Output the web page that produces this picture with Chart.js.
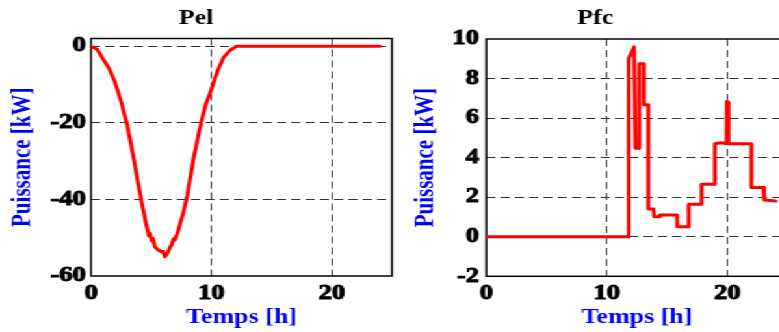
<!DOCTYPE html>
<html><head><meta charset="utf-8">
<script src="https://cdn.jsdelivr.net/npm/chart.js@4.4.1/dist/chart.umd.min.js"></script>
<style>
html,body{margin:0;padding:0;background:#fff;overflow:hidden;width:779px;height:332px}
#stage{position:absolute;left:0;top:0;width:600px;height:332px;transform:scaleX(1.3);transform-origin:0 0}
#c1{position:absolute;left:0;top:0}
#c2{position:absolute;left:310px;top:0}
</style></head><body>
<div id="stage"><canvas id="c1" width="310" height="332"></canvas><canvas id="c2" width="300" height="332"></canvas></div>
<script>
// ---- data ----
const xTickValues = [0, 10, 20];
const pelTickValues = [-60, -40, -20, 0];
const pfcTickValues = [-2, 0, 2, 4, 6, 8, 10];

const pelTime  = [0, 0.5, 1, 1.5, 2, 2.5, 3, 3.5, 4, 4.34, 4.62, 4.8, 4.9, 5.03, 5.15, 5.31, 5.6, 5.87, 6.0, 6.14, 6.3, 6.42, 6.55, 6.7, 6.85, 6.97, 7.1, 7.25, 7.66, 8, 8.5, 9, 9.5, 10, 10.5, 11, 11.5, 12.1, 24];
const pelPower = [0, -0.8, -3.4, -5.8, -9.5, -14.5, -20.5, -28.5, -37.3, -42.8, -47, -49.5, -48.8, -50.8, -50.2, -52.4, -53.2, -53.7, -53.6, -55.0, -54.2, -53.7, -52.5, -51.9, -50.3, -50.6, -49.5, -48, -43.6, -39, -29.6, -22, -15.5, -11.3, -6.5, -3, -1.2, 0, 0];

const pfcTime  = [0, 11.82, 11.82, 12.06, 12.26, 12.38, 12.7, 12.7, 13.08, 13.08, 13.45, 13.45, 13.88, 13.93, 14.35, 14.4, 15.84, 15.84, 16.8, 16.8, 17.87, 17.87, 18.97, 18.97, 19.5, 19.95, 19.97, 20.08, 20.1, 22.0, 22.0, 23.0, 23.06, 24.0];
const pfcPower = [0, 0, 9.04, 9.3, 9.6, 4.48, 4.48, 8.75, 8.75, 6.67, 6.67, 1.4, 1.4, 1.01, 1.01, 1.1, 1.1, 0.51, 0.51, 1.64, 1.64, 2.65, 2.65, 4.70, 4.75, 4.72, 6.84, 6.8, 4.7, 4.7, 2.49, 2.49, 1.86, 1.81];

const FONT = "'Liberation Serif','Times New Roman',serif";

const framePlugin = {
  id: 'frame',
  beforeDatasetsDraw(chart) {
    const {ctx, chartArea: a} = chart;
    ctx.save();
    ctx.setLineDash([]);
    ctx.strokeStyle = '#000';
    ctx.lineWidth = 1.5;
    ctx.strokeRect(a.left, a.top, a.right - a.left, a.bottom - a.top);
    ctx.restore();
  }
};

function makeChart(id, cfg) {
  const pts = cfg.time.map((t, i) => ({x: t, y: cfg.values[i]}));
  return new Chart(document.getElementById(id), {
    type: 'line',
    data: {datasets: [{data: pts, borderColor: '#ff0000', borderWidth: 3, pointRadius: 0, tension: 0, fill: false, borderJoinStyle: 'round', borderCapStyle: 'round'}]},
    plugins: [framePlugin],
    options: {
      responsive: false, animation: false, devicePixelRatio: 1,
      layout: {padding: {top: 0, left: 0, bottom: 0, right: cfg.padRight}},
      plugins: {
        legend: {display: false}, tooltip: {enabled: false},
        title: {display: true, text: cfg.title, color: '#000', font: {family: FONT, size: 20, weight: 'bold', lineHeight: 1.2}, padding: {top: 7, bottom: cfg.titleBottom}}
      },
      scales: {
        x: {
          type: 'linear', min: 0, max: 25,
          afterBuildTicks: s => { s.ticks = xTickValues.map(v => ({value: v})); },
          afterFit: s => { s.height = cfg.xHeight; },
          ticks: {color: '#000', font: {family: FONT, size: 20.5, weight: 'bold'}, padding: 5, maxRotation: 0, textStrokeColor: '#000', textStrokeWidth: 1},
          grid: {drawTicks: false, color: c => (c.tick && c.tick.value === 0) ? 'rgba(0,0,0,0)' : '#333', lineWidth: 1},
          border: {display: false, dash: [7, 4]},
          title: {display: true, text: 'Temps [h]', color: '#0000ff', font: {family: FONT, size: 20, weight: 'bold', lineHeight: 1.2}, padding: {top: 0, bottom: 2.5}}
        },
        y: {
          type: 'linear', min: cfg.yMin, max: cfg.yMax,
          afterBuildTicks: s => { s.ticks = cfg.yTicks.map(v => ({value: v})); },
          afterFit: s => { s.width = cfg.yWidth; },
          ticks: {color: '#000', font: {family: FONT, size: 20.5, weight: 'bold'}, padding: cfg.yPad, textStrokeColor: '#000', textStrokeWidth: 1},
          grid: {drawTicks: false, color: c => (c.tick && (c.tick.value === cfg.yMin || c.tick.value === cfg.yMax)) ? 'rgba(0,0,0,0)' : '#333', lineWidth: 1},
          border: {display: false, dash: [7, 4]},
          title: {display: true, text: 'Puissance [kW]', color: '#0000ff', font: {family: FONT, size: 21, weight: 'bold', lineHeight: 1.2}, padding: {top: cfg.yTitlePad, bottom: 0}}
        }
      }
    }
  });
}

makeChart('c1', {title: 'Pel', time: pelTime, values: pelPower, yMin: -60, yMax: 2, yTicks: pelTickValues,
  padRight: 8.5, titleBottom: 7.5, xHeight: 56, yWidth: 70, yPad: 4, yTitlePad: 4.7});
makeChart('c2', {title: 'Pfc', time: pfcTime, values: pfcPower, yMin: -2, yMax: 10, yTicks: pfcTickValues,
  padRight: 4.2, titleBottom: 8, xHeight: 55.7, yWidth: 64.1, yPad: 5.5, yTitlePad: 5.1});
</script>
</body></html>
